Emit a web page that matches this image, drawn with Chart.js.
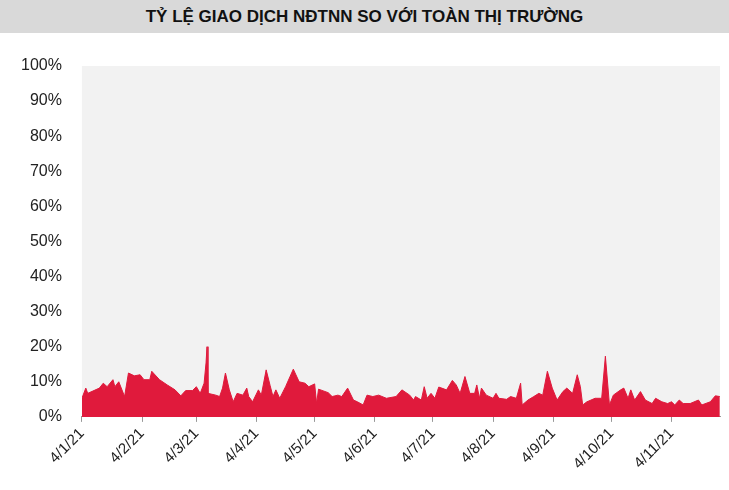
<!DOCTYPE html>
<html>
<head>
<meta charset="utf-8">
<script src="https://cdn.jsdelivr.net/npm/chart.js@4/dist/chart.umd.min.js"></script>
<style>
  body { margin: 0; background: #fff; font-family: "Liberation Sans", Arial, sans-serif; }
  #title { height: 33px; background: #d9d9d9; text-align: center; line-height: 33px;
           font-weight: bold; font-size: 17px; color: #111; }
  #wrap { position: relative; width: 729px; height: 457px; }
</style>
</head>
<body>
<div id="title">TỶ LỆ GIAO DỊCH NĐTNN SO VỚI TOÀN THỊ TRƯỜNG</div>
<div id="wrap"><canvas id="c"></canvas></div>
<script>
// days counted from 4/1/2021 (calendar days)
const days = [0,2,3,9,11,13,16,17,19,22,24,27,30,32,35,36,40,44,48,51,53.5,57,59,61,63,64,64.5,65,69,71,72.5,74,76,78,80,83,85,86,88,91,92.5,95,97,98.5,100,102,105,109,112,115,117,120,121,122,127,129,132,134,137,140,142,145,147,150,153,157,162,
  165,169,171,172,175,176.5,178,180,182,184,188,191,193,195,197.5,200,202.5,203.6,205,206,208.5,212,213.5,215,219,221,224,226.2,227,230,233,235.6,237.6,240,242.5,245,248,250,253,255.4,257,258.2,260.4,264.6,268,269.9,272,274,277.8,279.4,281.6,283,285,288,290.5,294,295.8,299,302,304,305.7,308,310,313.6,317.9,319.6,324,326.6,328.9];
const ratio = [5.3,8.2,6.7,8.2,9.6,8.6,10.6,8.6,10,5.8,12.5,11.7,12,10.6,10.6,13,10.6,9.1,7.7,6,7.5,7.5,8.6,6.7,9.6,15.4,20,6.7,6.2,5.8,8.2,12.5,7.7,4.3,6.7,6.2,8.2,5.8,4.3,7.7,6.2,13.4,9,5.8,7.7,5.3,8.6,13.6,10,9.6,8.6,9.4,3.8,7.9,6.9,5.8,6.2,5.8,8.2,4.8,4.3,3.4,6.2,5.8,6.2,5.3,5.8,
  7.7,6.2,4.8,5.8,4.8,8.6,5.3,6.7,5.3,8.5,7.7,10.4,9.1,6.7,11.5,6.7,6.7,9.1,5.3,8.2,6.2,5.3,6.7,5.3,5,5.8,5.3,9.6,3.4,4.8,5.8,6.7,6.2,13,8.2,4.8,7.2,8.2,6.7,12,8.6,3.4,4.3,5.3,5.3,17.3,3.4,6.2,7.7,8.2,5.3,7.7,4.8,7.2,4.8,3.8,5.3,4.3,3.8,4.3,3.4,4.8,3.8,3.8,4.8,3.4,4.3,6,5.8];
const tickDays = [0,31,59,90,120,151,181,212,243,273,304];
const tickLabels = ['4/1/21','4/2/21','4/3/21','4/4/21','4/5/21','4/6/21','4/7/21','4/8/21','4/9/21','4/10/21','4/11/21'];

const plotBg = {
  id: 'plotBg',
  beforeDraw(chart) {
    const {ctx, chartArea: a} = chart;
    ctx.save();
    ctx.fillStyle = '#f2f2f2';
    ctx.fillRect(a.left, a.top, a.right - a.left, a.bottom - a.top);
    ctx.restore();
  }
};

new Chart(document.getElementById('c'), {
  type: 'line',
  data: {
    datasets: [{
      data: days.map((d, i) => ({x: d, y: ratio[i]})),
      borderColor: '#e01a3c',
      backgroundColor: '#e01a3c',
      borderWidth: 1,
      pointRadius: 0,
      tension: 0,
      fill: 'origin'
    }]
  },
  options: {
    responsive: true,
    maintainAspectRatio: false,
    animation: false,
    layout: { padding: { top: 33, right: 9, left: 9, bottom: 14 } },
    plugins: { legend: { display: false }, tooltip: { enabled: false } },
    scales: {
      x: {
        type: 'linear', min: 0, max: 329,
        afterBuildTicks: s => { s.ticks = tickDays.map(v => ({value: v})); },
        ticks: {
          callback: (v) => tickLabels[tickDays.indexOf(v)],
          minRotation: 45, maxRotation: 45,
          color: '#222', font: { family: 'Liberation Sans', size: 15 }
        },
        grid: { display: true, drawOnChartArea: false, drawTicks: true, tickLength: 5, color: '#999' },
        border: { color: '#999' }
      },
      y: {
        min: 0, max: 100,
        ticks: {
          stepSize: 10, callback: v => v + '%',
          color: '#222', font: { family: 'Liberation Sans', size: 16 }, padding: 12
        },
        grid: { display: false },
        border: { display: false }
      }
    }
  },
  plugins: [plotBg]
});
</script>
</body>
</html>
